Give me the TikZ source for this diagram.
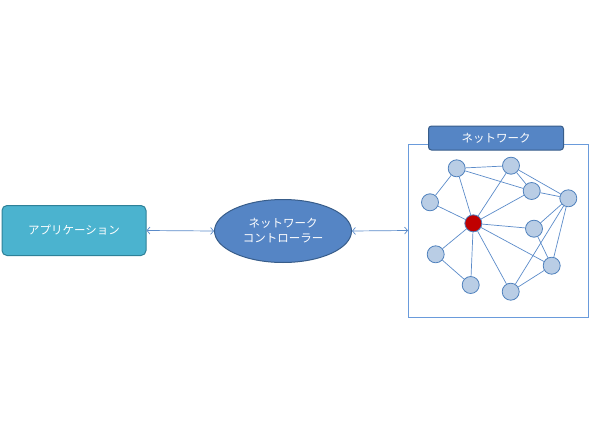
\documentclass[tikz,border=0pt]{standalone}
\usepackage{fontspec}
\newfontfamily\jp{Noto Sans CJK JP}
\usetikzlibrary{shapes.geometric,arrows.meta}
\definecolor{appfill}{HTML}{4BB3CF}
\definecolor{appedge}{HTML}{2E8198}
\definecolor{ctrlfill}{HTML}{5585C5}
\definecolor{ctrledge}{HTML}{385D8A}
\definecolor{linec}{HTML}{5B8BC9}
\definecolor{boxc}{HTML}{6A9BDB}
\definecolor{nodefill}{HTML}{B9CDE5}
\definecolor{nodeedge}{HTML}{4F81BD}
\definecolor{redn}{HTML}{C00000}
\tikzset{
  nw/.style={circle,minimum size=17pt,inner sep=0pt,fill=nodefill,draw=nodeedge,line width=0.8pt},
  hub/.style={circle,minimum size=17pt,inner sep=0pt,fill=redn,draw=nodeedge,line width=0.8pt},
  edge/.style={draw=linec,line width=0.7pt},
  link/.style={draw=linec,line width=0.7pt,{Straight Barb[length=3pt,width=7pt]}-{Straight Barb[length=3pt,width=7pt]}},
  lbl/.style={text=white,font=\jp\fontsize{11.5pt}{15pt}\selectfont,align=center}
}
\begin{document}
\begin{tikzpicture}[x=1pt,y=-1pt]
\useasboundingbox (0,0) rectangle (590,442);
% application
\node[lbl,draw=appedge,line width=1pt,fill=appfill,rounded corners=5pt,minimum width=144pt,minimum height=50pt] (app) at (74,230.5) {アプリケーション};
% controller
\node[lbl,ellipse,draw=ctrledge,line width=1pt,fill=ctrlfill,minimum width=137pt,minimum height=63pt,inner sep=0pt] (ctrl) at (283,231) {ネットワーク\\コントローラー};
% network box
\node[draw=boxc,line width=1pt,minimum width=180pt,minimum height=173pt,inner sep=0pt] (net) at (498.5,230.5) {};
\node[lbl,draw=ctrledge,line width=1pt,fill=ctrlfill,rounded corners=3pt,minimum width=135pt,minimum height=24pt,inner sep=0pt] (title) at (496,138) {ネットワーク};
% arrows
\draw[link] (app.east) -- (ctrl.west);
\draw[link] (ctrl.east) -- (net.west);
% network nodes
\node[nw] (n1) at (456.7,168.3) {};
\node[nw] (n2) at (511,165.7) {};
\node[nw] (n3) at (531.7,191) {};
\node[nw] (n4) at (568.3,198.3) {};
\node[nw] (n5) at (430,202.3) {};
\node[hub] (r) at (473.3,223.3) {};
\node[nw] (n6) at (534,228.7) {};
\node[nw] (n7) at (435.7,254.3) {};
\node[nw] (n8) at (551.7,265.7) {};
\node[nw] (n9) at (470.7,285) {};
\node[nw] (n10) at (510.7,291.7) {};
\foreach \a/\b in {n1/n2,n1/n3,n1/n5,n1/r,n2/n3,n2/n4,n2/r,n3/n4,n3/r,n5/r,r/n6,r/n7,r/n9,r/n10,r/n8,n4/n6,n4/n10,n4/n8,n6/n8,n8/n10,n7/n9}
  \draw[edge] (\a) -- (\b);
\end{tikzpicture}
\end{document}
